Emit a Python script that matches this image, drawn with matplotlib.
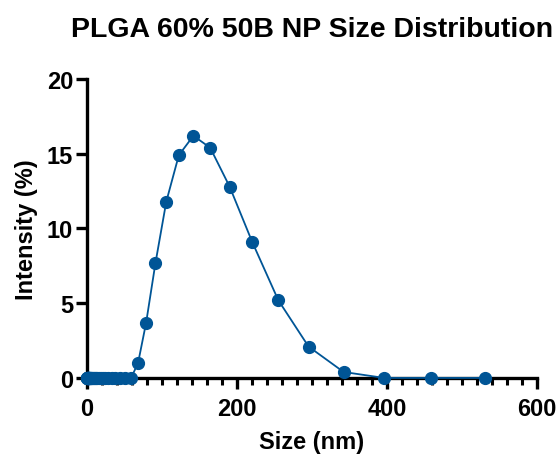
import numpy as np
import matplotlib.pyplot as plt
from matplotlib.ticker import MultipleLocator

plt.rcParams['font.family'] = ['Liberation Sans', 'DejaVu Sans']
plt.rcParams['font.weight'] = 'bold'

# Tamanhos das classes (nm) e intensidade (%)
tamanho = [0.4, 0.4632, 0.5365, 0.6213, 0.7195, 0.8332, 0.9649, 1.117, 1.294, 1.499,
           1.736, 2.01, 2.328, 2.696, 3.122, 3.615, 4.187, 4.849, 5.615, 6.503,
           7.531, 8.721, 10.1, 11.7, 13.54, 15.69, 18.17, 21.04, 24.36, 28.21,
           32.67, 37.84, 43.82, 50.75, 58.77, 68.06, 78.82, 91.28, 105.7, 122.4,
           141.8, 164.2, 190.1, 220.2, 255.0, 295.3, 342.0, 396.1, 458.7, 531.2]
intensidade = [0.0] * 35 + [1.0, 3.7, 7.7, 11.8, 14.9, 16.2, 15.4, 12.8, 9.1, 5.2,
                            2.1, 0.4, 0.0, 0.0, 0.0]

cor = '#005596'

fig = plt.figure(figsize=(5.56, 4.56), dpi=100)
ax = fig.add_axes([0.1565, 0.169, 0.8095, 0.6556])

ax.plot(tamanho, intensidade, 'o-', color=cor, markersize=8.5, linewidth=1.3, clip_on=False, zorder=3)

ax.set_xlim(0, 600)
ax.set_ylim(0, 20)
ax.xaxis.set_major_locator(MultipleLocator(200))
ax.xaxis.set_minor_locator(MultipleLocator(20))
ax.yaxis.set_major_locator(MultipleLocator(5))

for lado in ['top', 'right']:
    ax.spines[lado].set_visible(False)
for lado in ['left', 'bottom']:
    ax.spines[lado].set_linewidth(2.4)

ax.tick_params(axis='both', which='major', length=8, width=2.4, labelsize=17, pad=2)
ax.tick_params(axis='x', which='major', pad=6)
ax.tick_params(axis='x', which='minor', length=5, width=2.2)

ax.set_title('PLGA 60% 50B NP Size Distribution', fontsize=20.5, fontweight='bold', pad=31)
ax.set_xlabel('Size (nm)', fontsize=17, fontweight='bold', labelpad=7)
ax.set_ylabel('Intensity (%)', fontsize=17, fontweight='bold', labelpad=6)

fig.savefig('out.png', dpi=100)
